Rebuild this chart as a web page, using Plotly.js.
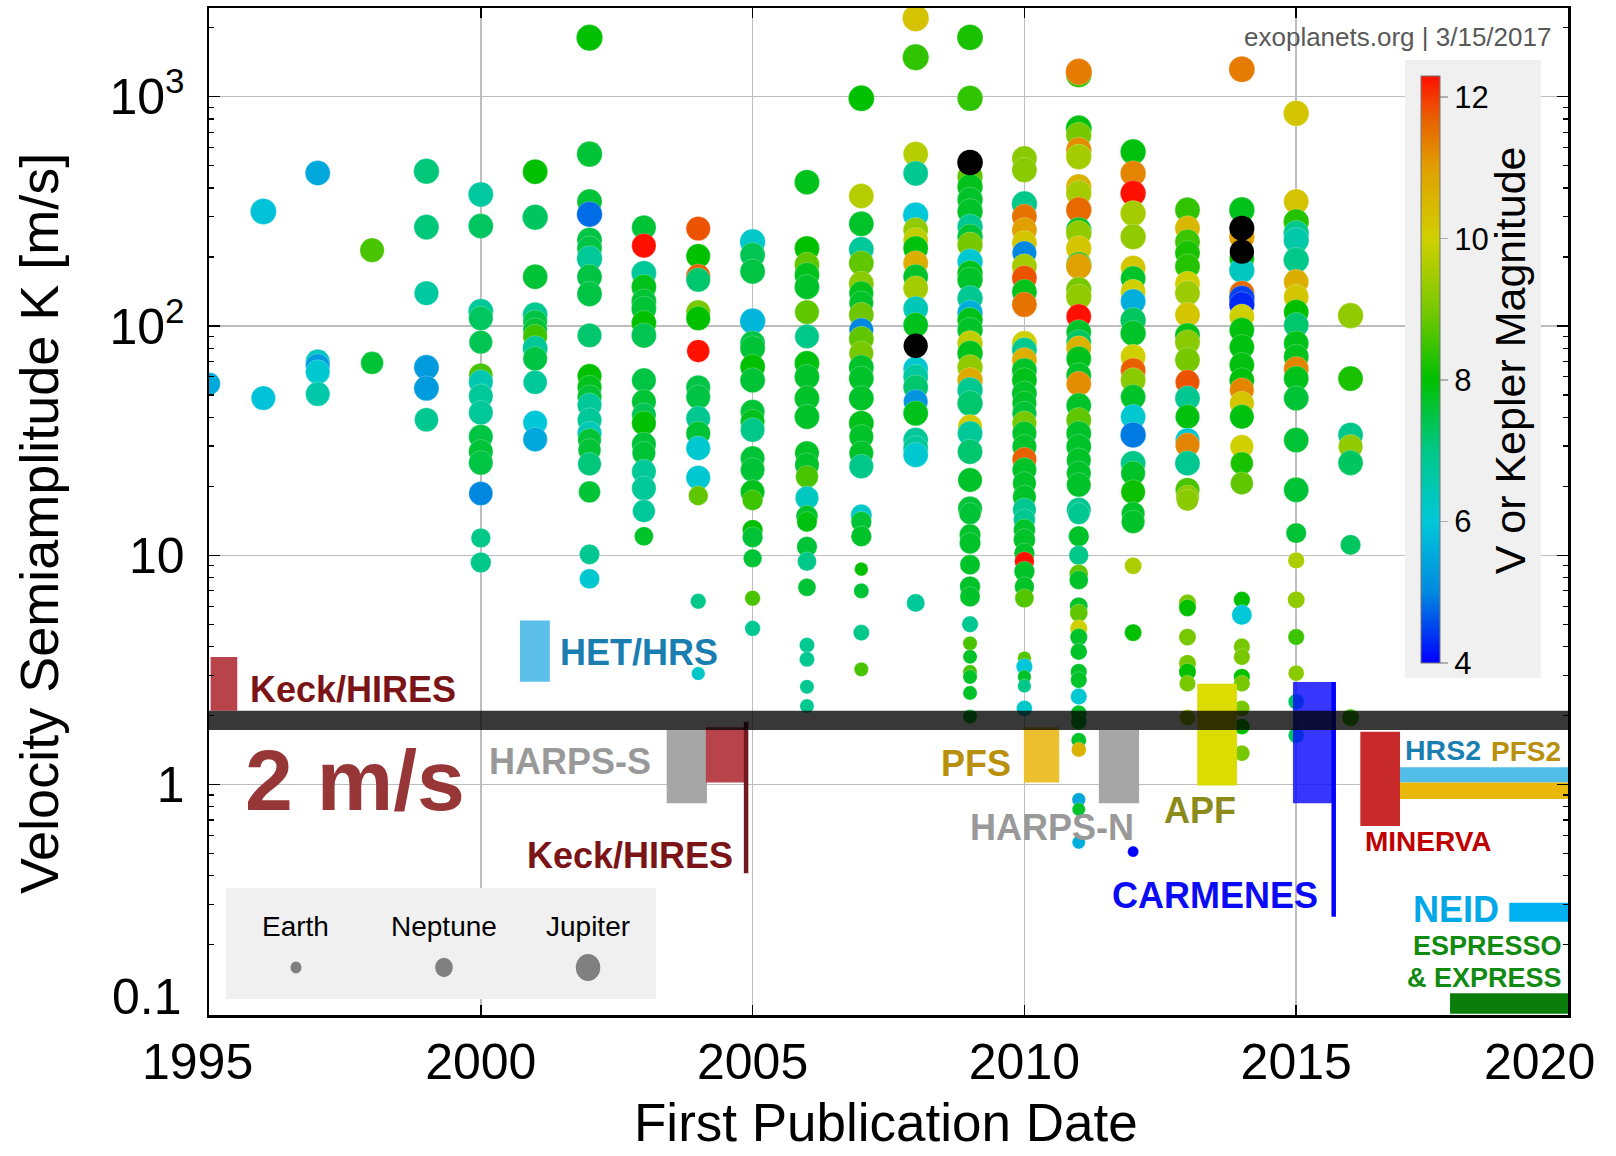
<!DOCTYPE html>
<html>
<head>
<meta charset="utf-8">
<script src="https://cdn.plot.ly/plotly-3.0.1.min.js"></script>
<style>
  html, body { margin: 0; padding: 0; background: #fff; }
  #chart { width: 1616px; height: 1156px; }
</style>
</head>
<body>
<div id="chart"></div>
<script>
// Radial-velocity planets by year of first publication.
// Each row: [K semiamplitude (m/s), host V or Kepler magnitude (null = unknown), planet mass (Earth masses)]
const p1995 = [[56, 5.5, 150]];
const p1996 = [[316, 5.9, 600], [48.5, 5.9, 300]];
const p1997 = [[465, 5.5, 400], [70, 6.3, 300], [67, 5.3, 300], [63, 6.1, 300], [50.5, 6.6, 300]];
const p1998 = [[214, 8.6, 300], [69, 7.6, 150]];
const p1999 = [[473, 7.1, 500], [270, 7.1, 400], [139, 6.7, 300], [66, 5.3, 400], [53.5, 5.3, 400], [39, 6.9, 250]];
const p2000 = [[375, 6.7, 400], [273, 7.3, 400], [116, 6.8, 400], [108, 7.3, 300], [85, 7.4, 200], [61, 8.6, 250],
  [57, 6.5, 300], [49.5, 6.8, 300], [41.9, 6.8, 300], [32.9, 7.5, 300], [28.3, 7.6, 300], [25.3, 7.5, 300],
  [18.6, 5.0, 250], [11.9, 7.0, 40], [9.3, 7.0, 60]];
const p2001 = [[471, 8.0, 400], [298, 7.3, 500], [164, 7.6, 400], [112, 6.9, 400], [104, 7.5, 300], [96, 7.6, 300],
  [90, 8.5, 300], [80, 6.8, 400], [72, 7.5, 300], [56.8, 6.8, 250], [37.9, 6.0, 300], [32, 5.5, 300]];
const p2002 = [[1808, 8.0, 700], [562, 7.6, 500], [349, 7.6, 400], [307, 4.8, 500], [237, 7.5, 400], [218, 7.5, 400],
  [197, 6.8, 500], [164, 7.5, 400], [138, 7.5, 400], [91, 7.2, 300], [60.5, 8.0, 300], [54, 7.8, 300], [49, 7.6, 300],
  [45.2, 6.8, 300], [38.9, 6.8, 300], [34, 6.4, 300], [31.8, 7.6, 200], [28.8, 7.6, 150], [25, 7.1, 200],
  [18.9, 7.6, 100], [10.1, 6.9, 50], [7.9, 6.1, 50]];
const p2003 = [[269, 7.6, 300], [224, 12.3, 300], [170, 6.8, 400], [148, 7.8, 400], [128, 7.6, 400], [119, 7.6, 400],
  [103, 8.0, 400], [91, 7.4, 400], [58, 7.5, 300], [46.8, 7.6, 300], [40.9, 7.4, 300], [37.7, 8.0, 300],
  [30.5, 7.6, 300], [27.9, 7.6, 200], [23.2, 6.8, 300], [19.6, 6.8, 300], [15.6, 6.8, 150], [12.1, 7.7, 30]];
const p2004 = [[266, 11.8, 300], [202, 8.0, 300], [165, 11.7, 300], [159, 7.2, 300], [115, 9.0, 300], [108, 8.0, 300],
  [77.8, 12.3, 150], [54, 7.5, 300], [49, 7.5, 300], [39.6, 6.9, 300], [34, 7.6, 300], [29.3, 6.1, 300],
  [21.8, 6.1, 300], [18.2, 8.8, 40], [6.3, 7.0, 7], [3.05, 6.2, 3]];
const p2005 = [[233, 6.2, 500], [204, 7.4, 400], [173, 7.5, 400], [105, 5.7, 500], [84, 7.5, 400], [80, 7.6, 400],
  [66.4, 8.0, 400], [58, 7.6, 400], [42.3, 7.6, 300], [38.3, 7.8, 300], [35.2, 7.0, 300], [26.5, 7.6, 300],
  [23.6, 7.6, 300], [18.9, 7.8, 300], [17.4, 8.5, 60], [12.9, 8.0, 60], [12, 7.6, 60], [9.7, 7.6, 25],
  [6.5, 8.6, 7], [4.8, 6.9, 7]];
const p2006 = [[424, 7.8, 400], [218, 8.0, 400], [185, 8.8, 400], [167, 7.8, 400], [148, 7.7, 400], [115, 8.8, 300],
  [90, 7.0, 300], [68.7, 7.9, 400], [60, 7.7, 400], [48.4, 7.7, 400], [40.2, 7.7, 400], [27.9, 7.7, 300],
  [24.8, 7.7, 300], [22, 8.6, 150], [17.8, 6.3, 200], [14.8, 7.7, 100], [14, 7.9, 55], [10.9, 7.6, 55],
  [9.4, 7.0, 30], [7.25, 7.6, 20], [4.06, 6.9, 6], [3.52, 6.9, 6], [2.67, 6.9, 4], [2.2, 6.9, 4]];
const p2007 = [[984, 8.0, 600], [369, 9.7, 400], [279, 7.7, 400], [216, 6.8, 400], [188, 8.8, 400], [153, 9.2, 400],
  [139, 7.8, 300], [126, 7.7, 300], [112, 8.9, 400], [96, 5.0, 300], [88, 8.8, 400], [76, 9.0, 300], [66, 7.7, 400],
  [59, 7.7, 400], [48.4, 7.7, 400], [37.7, 7.8, 400], [32.9, 7.7, 300], [27.9, 7.7, 300], [24.4, 7.0, 300],
  [15, 6.2, 80], [14, 7.6, 60], [12.1, 7.7, 60], [8.7, 8.0, 3], [7, 7.6, 6], [4.6, 7.0, 9], [3.18, 8.6, 4]];
const p2008 = [[2200, 10.3, 800], [1486, 8.4, 700], [562, 9.7, 400], [463, 6.9, 400], [305, 6.0, 500], [262, 9.3, 400],
  [237, 9.8, 400], [218, 7.9, 400], [188, 10.7, 400], [164, 7.7, 400], [146, 9.5, 400], [119, 6.4, 400],
  [101, 7.8, 400], [82, null, 300], [65, 6.1, 400], [60, 6.7, 400], [54, 7.2, 400], [46.8, 5.2, 300],
  [41.6, 7.8, 400], [31.8, 6.8, 400], [29.3, 6.8, 400], [27.4, 6.1, 400], [6.2, 6.8, 22]];
const p2009 = [[1815, 8.2, 600], [984, 8.4, 500], [517, null, 500], [448, 8.8, 500], [405, 7.8, 500], [355, 7.7, 500],
  [316, 7.7, 500], [271, 6.9, 500], [245, 7.6, 500], [226, 9.0, 500], [191, 6.1, 500], [170, 7.8, 500],
  [159, 7.7, 500], [132, 6.9, 500], [114, 5.6, 500], [106, 7.8, 500], [96, 7.7, 500], [84, 9.8, 500],
  [76, 7.8, 500], [66, 9.3, 500], [58, 10.8, 500], [52.6, 6.9, 500], [46, 7.2, 500], [36.4, 10.1, 300],
  [34, 6.8, 400], [28.3, 7.2, 400], [21.3, 7.7, 300], [16, 7.6, 300], [15.2, 7.6, 100], [12.3, 7.7, 80],
  [11.3, 7.7, 80], [9.1, 7.7, 50], [7.3, 7.7, 60], [6.6, 7.7, 50], [5, 6.9, 10], [4.13, 8.6, 4], [3.61, 7.7, 4],
  [3.1, 8.6, 4], [2.95, 7.7, 4], [2.51, 7.7, 4], [1.98, 7.7, 4]];
const p2010 = [[538, 9.2, 400], [479, 9.2, 400], [341, 7.0, 500], [300, 11.5, 400], [262, 11.0, 400], [230, 10.2, 400],
  [208, 5.0, 300], [182, 9.5, 400], [162, 11.8, 400], [141, 7.8, 400], [124, 11.5, 400], [84, 10.0, 400],
  [78.5, 6.9, 400], [71, 10.7, 400], [64, 7.7, 400], [58, 7.8, 400], [50.8, 7.7, 400], [46, 7.7, 300],
  [41.6, 7.6, 300], [37.7, 9.0, 300], [34, 7.7, 300], [29.8, 7.7, 300], [26.2, 11.7, 300], [23.6, 7.7, 300],
  [20.6, 7.7, 200], [18, 7.7, 200], [15.8, 6.9, 200], [14.3, 6.9, 100], [12.9, 7.7, 100], [11.7, 7.7, 100],
  [10.2, 7.7, 60], [9.4, 12.3, 40], [8.5, 7.7, 60], [7.3, 7.7, 40], [6.5, 8.7, 30], [3.56, 8.7, 3],
  [3.27, 6.0, 10], [2.95, 7.7, 3], [2.69, 7.0, 3], [2.15, 6.2, 8]];
const p2011 = [[1250, 8.5, 600], [1285, 11.4, 700], [728, 7.9, 600], [681, 9.0, 500], [586, 11.2, 500], [547, 9.5, 500],
  [405, 10.6, 500], [379, 9.5, 500], [321, 11.6, 500], [262, 7.8, 500], [254, 9.3, 500], [218, 10.2, 500],
  [185, 7.8, 500], [182, 11.0, 500], [144, 9.0, 500], [134, 9.3, 500], [110, 12.4, 400], [94, 7.7, 400],
  [85, 7.3, 400], [80, 10.6, 400], [72, 7.8, 400], [61, 7.7, 400], [56, 11.2, 400], [45, 7.7, 400],
  [38.9, 8.8, 400], [34, 7.7, 400], [29.8, 7.7, 400], [26, 7.7, 300], [22.8, 7.7, 300], [20.3, 7.7, 300],
  [15.8, 6.9, 300], [15.2, 6.9, 100], [12.1, 7.7, 60], [10, 7.0, 40], [8.3, 8.8, 30], [7.8, 7.7, 30],
  [6, 7.7, 20], [5.6, 8.8, 20], [4.8, 10.0, 15], [4.4, 7.7, 15], [3.8, 7.7, 12], [3.1, 7.7, 10], [2.86, 7.7, 10],
  [2.42, 6.1, 10], [2.05, 7.7, 8], [1.88, 7.7, 8], [1.56, 7.7, 6], [1.42, 10.6, 5], [0.86, 5.5, 3],
  [0.78, 7.7, 2.5], [0.56, 5.6, 2.5]];
const p2012 = [[575, 7.9, 500], [463, 11.3, 500], [379, 12.3, 500], [310, 9.5, 500], [245, 9.3, 500], [179, 10.2, 400],
  [161, 7.7, 400], [141, 10.0, 400], [128, 5.6, 400], [106, 7.3, 500], [93, 7.7, 500], [73.5, 10.0, 400],
  [64, 11.7, 400], [58, 9.2, 400], [49, 7.7, 400], [40.2, 6.1, 400], [33.5, 4.9, 500], [25.2, 7.0, 400],
  [22.8, 7.7, 300], [18.9, 8.1, 300], [15.2, 7.7, 200], [14, 7.7, 200], [9, 9.6, 14], [4.6, 8.0, 14], [0.51, 4.0, 1]];
const p2013 = [[321, 8.4, 400], [267, 10.5, 400], [233, 8.5, 400], [208, 8.2, 400], [182, 8.3, 400], [153, 10.0, 400],
  [139, 9.4, 400], [112, 10.2, 400], [91, 7.8, 400], [85, 9.2, 400], [71, 9.0, 400], [57, 11.8, 300],
  [48.4, 6.9, 400], [40.2, 7.9, 300], [31.8, 6.1, 300], [30.3, 11.3, 300], [25.2, 6.9, 400], [19.3, 8.6, 300],
  [18, 9.2, 200], [17.4, 9.2, 100], [6.2, 9.0, 14], [5.9, 8.0, 14], [4.4, 9.0, 14], [3.38, 9.0, 14],
  [3.1, 8.0, 14], [2.76, 9.0, 10], [1.96, 9.5, 8]];
const p2014 = [[1318, 11.4, 600], [321, 7.8, 500], [267, null, 400], [245, 11.0, 500], [211, null, 300], [197, 8.0, 400],
  [175, 6.3, 500], [139, 11.6, 400], [132, 4.5, 500], [124, 4.3, 500], [110, 10.0, 400], [96, 7.9, 400],
  [81, 7.9, 400], [67.6, 7.9, 400], [58, 7.9, 400], [52.6, 11.3, 300], [46, 10.2, 300], [40.2, 7.9, 300],
  [29.8, 10.0, 200], [25.2, 8.2, 150], [20.6, 8.8, 150], [6.4, 8.0, 10], [5.5, 6.0, 50], [4, 9.0, 10],
  [3.6, 9.0, 10], [2.95, 8.0, 10], [2.76, 9.0, 10], [2.15, 9.0, 8], [1.79, 8.0, 8], [1.37, 9.0, 8]];
const p2015 = [[846, 10.2, 500], [349, 10.3, 400], [285, 8.3, 500], [254, 7.0, 500], [237, 6.6, 500], [194, 7.0, 500],
  [156, 10.7, 400], [134, 10.2, 400], [115, 8.0, 400], [101, 7.2, 400], [84, 7.8, 400], [73.5, 7.8, 400],
  [65, 11.3, 400], [59, 7.8, 400], [48.4, 7.6, 400], [31.8, 7.6, 400], [19.3, 7.6, 400], [12.5, 7.6, 55],
  [9.5, 9.6, 10], [6.4, 9.3, 14], [4.4, 8.5, 10], [3.06, 9.2, 8], [2.3, 7.3, 8], [1.64, 7.3, 8]];
const p2016 = [[111, 9.3, 500], [59, 8.2, 400], [33.5, 7.0, 400], [29.8, 9.3, 300], [25.3, 7.3, 400], [11.1, 7.3, 55],
  [1.96, 8.5, 14]];

const publicationYears = [1995, 1996, 1997, 1998, 1999, 2000, 2001, 2002, 2003, 2004, 2005,
  2006, 2007, 2008, 2009, 2010, 2011, 2012, 2013, 2014, 2015, 2016];
const yearColumns = [p1995, p1996, p1997, p1998, p1999, p2000, p2001, p2002, p2003, p2004, p2005,
  p2006, p2007, p2008, p2009, p2010, p2011, p2012, p2013, p2014, p2015, p2016];

// Spectrograph precision floors: active period and reachable K range
const instName = ['Keck/HIRES', 'HET/HRS', 'HARPS-S', 'Keck/HIRES', 'PFS', 'HARPS-N', 'APF', 'CARMENES',
  'MINERVA', 'HRS2', 'PFS2', 'NEID', 'ESPRESSO & EXPRESS'];
const instFrom = [1995.03, 2000.72, 2003.42, 2004.14, 2009.99, 2011.37, 2013.18, 2014.94, 2016.18, 2016.91, 2016.91, 2018.92, 2017.83];
const instTo = [1995.52, 2001.27, 2004.16, 2004.88, 2010.64, 2012.11, 2013.91, 2015.66, 2016.91, 2020, 2020, 2020, 2020];
const instKLow = [2.1, 2.81, 0.83, 1.02, 1.02, 0.83, 0.99, 0.83, 0.66, 1.02, 0.865, 0.252, 0.1];
const instKHigh = [3.6, 5.2, 1.73, 1.78, 1.78, 1.73, 2.75, 2.8, 1.70, 1.19, 1.02, 0.305, 0.123];

// Upgrade markers (year, K from, K to)
const upgradeYear = [2004.88, 2015.69];
const upgradeKLow = [0.41, 0.265];
const upgradeKHigh = [1.88, 2.8];

// 2 m/s reference band
const bandKLow = 1.73;
const bandKHigh = 2.10;

// Size key
const keyNames = ['Earth', 'Neptune', 'Jupiter'];
const keyMass = [1, 17.1, 317.8];

const xTickYears = [2000, 2005, 2010, 2015];
const xTickText = ['2000', '2005', '2010', '2015'];
const xEdgeYears = ['1995', '2020'];
const yTickVals = [1, 10, 100, 1000];
const yTickText = ['1', '10', '10<sup>2</sup>', '10<sup>3</sup>'];
const magTicks = [4, 6, 8, 10, 12];

// ---- styling ----
const FONT = 'Liberation Sans, Arial, Helvetica, sans-serif';
const instColor = ['#b8434a', '#5bbfea', '#a6a6a6', '#b8434a', '#ebbf2e', '#a6a6a6', '#dcdc00',
  'rgba(10,10,255,0.82)', '#c8292b', '#52bde8', '#e9b80b', '#00b0f0', '#0b7d0b'];
const upgradeColor = ['#701a1f', '#0000ff'];
const MAG_MIN = 4, MAG_MAX = 12.3;
const magStops = [[4, '#0000ff'], [5, '#0088e0'], [6, '#00c8d8'], [7, '#00c888'], [8, '#00c000'],
  [9, '#78c800'], [10, '#d0d000'], [11, '#e0a000'], [11.7, '#e86000'], [12.3, '#ff1000']];
const colorscale = magStops.map(([m, c]) => [(m - MAG_MIN) / (MAG_MAX - MAG_MIN), c]);

function markerDiameter(massEarth) {
  const d = 11 + 13.5 * Math.log10(massEarth) / Math.log10(317.8);
  return Math.max(9, Math.min(26.5, d));
}

// ---- flatten the columns ----
const px = [], pk = [], pm = [], ps = [];
const bx = [], bk = [], bs = [];
yearColumns.forEach((col, i) => {
  const yr = publicationYears[i];
  col.forEach(([k, mag, mass]) => {
    if (mag === null) { bx.push(yr); bk.push(k); bs.push(markerDiameter(mass)); }
    else { px.push(yr); pk.push(k); pm.push(mag); ps.push(markerDiameter(mass)); }
  });
});

const traces = [];
traces.push({
  type: 'scatter', mode: 'markers', x: px, y: pk, hoverinfo: 'skip', showlegend: false,
  marker: {
    size: ps, color: pm, colorscale: colorscale, cmin: MAG_MIN, cmax: MAG_MAX, opacity: 1,
    line: {width: 0.7, color: 'rgba(255,255,255,0.35)'}, showscale: true,
    colorbar: {
      x: 0.8918, xanchor: 'left', xpad: 0, ypad: 0, y: 0.641, yanchor: 'middle',
      len: 587, lenmode: 'pixels', thickness: 19, thicknessmode: 'pixels',
      outlinewidth: 1, outlinecolor: '#777', bgcolor: 'rgba(0,0,0,0)', borderwidth: 0,
      tickmode: 'array', tickvals: magTicks, ticktext: magTicks.map(String),
      ticks: 'outside', ticklen: 8, tickcolor: '#b0b0b0', tickwidth: 1.5,
      tickfont: {family: FONT, size: 31, color: '#000'}
    }
  }
});
traces.push({
  type: 'scatter', mode: 'markers', x: bx, y: bk, hoverinfo: 'skip', showlegend: false,
  marker: {size: bs, color: '#000000', opacity: 1, line: {width: 0}}
});

instName.forEach((name, i) => {
  traces.push({
    type: 'scatter', mode: 'lines', hoverinfo: 'skip', showlegend: false,
    x: [instFrom[i], instTo[i], instTo[i], instFrom[i], instFrom[i]],
    y: [instKLow[i], instKLow[i], instKHigh[i], instKHigh[i], instKLow[i]],
    fill: 'toself', fillcolor: instColor[i], line: {width: 0}
  });
});
upgradeYear.forEach((yr, i) => {
  traces.push({
    type: 'scatter', mode: 'lines', hoverinfo: 'skip', showlegend: false,
    x: [yr, yr], y: [upgradeKLow[i], upgradeKHigh[i]],
    line: {color: upgradeColor[i], width: 4.5}
  });
});
traces.push({
  type: 'scatter', mode: 'lines', hoverinfo: 'skip', showlegend: false,
  x: [1995, 2020, 2020, 1995, 1995], y: [bandKLow, bandKLow, bandKHigh, bandKHigh, bandKLow],
  fill: 'toself', fillcolor: 'rgba(0,0,0,0.78)', line: {width: 0}
});

// ---- text ----
function tag(text, year, k, anchor, color, size) {
  return {
    xref: 'x', yref: 'y', x: year, y: Math.log10(k), text: '<b>' + text + '</b>', showarrow: false,
    xanchor: anchor, yanchor: 'middle', font: {family: FONT, size: size, color: color}
  };
}
function paperText(text, x, y, anchor, size, color, angle, vAnchor) {
  return {
    xref: 'paper', yref: 'paper', x: x, y: y, xanchor: anchor, yanchor: vAnchor || 'middle', showarrow: false,
    text: text, textangle: angle || 0, font: {family: FONT, size: size, color: color}
  };
}
const annotations = [
  tag('Keck/HIRES', 1995.71, 2.59, 'left', '#7b1416', 36),
  tag('2 m/s', 1995.62, 1.05, 'left', '#973636', 86),
  tag('HET/HRS', 2001.42, 3.78, 'left', '#1a7fb0', 36),
  tag('HARPS-S', 2001.64, 1.256, 'center', '#999999', 36),
  tag('Keck/HIRES', 2004.67, 0.493, 'right', '#7b1416', 36),
  tag('PFS', 2009.79, 1.24, 'right', '#b8900c', 36),
  tag('HARPS-N', 2010.51, 0.647, 'center', '#999999', 36),
  tag('APF', 2013.23, 0.767, 'center', '#8b8b1c', 36),
  tag('CARMENES', 2013.51, 0.327, 'center', '#0a0af5', 36),
  tag('MINERVA', 2016.23, 0.562, 'left', '#c00000', 28),
  tag('HRS2', 2016.97, 1.41, 'left', '#1a7fb0', 28.5),
  tag('PFS2', 2019.90, 1.40, 'right', '#b8900c', 28),
  tag('NEID', 2018.77, 0.286, 'right', '#00a8e8', 36),
  tag('ESPRESSO', 2019.93, 0.198, 'right', '#108a10', 27),
  tag('&amp; EXPRESS', 2019.93, 0.143, 'right', '#108a10', 27),
  // axis labels at the plot corners, kept inside the page
  paperText('0.1', -0.0187, 0.0179, 'right', 50, '#000'),
  paperText(xEdgeYears[0], -0.0088, -0.0462, 'center', 50, '#000'),
  paperText(xEdgeYears[1], 0.9787, -0.0462, 'center', 50, '#000'),
  // axis titles
  paperText('First Publication Date', 0.4985, -0.1385, 'center', 53, '#000', 0, 'bottom'),
  paperText('Velocity Semiamplitude K [m/s]', -0.1251, 0.4886, 'center', 54, '#000', -90),
  paperText('exoplanets.org | 3/15/2017', 0.989, 0.971, 'right', 26, '#595959'),
  paperText('V or Kepler Magnitude', 0.958, 0.650, 'center', 43, '#000', -90)
];
const keyX = [0.0640, 0.1729, 0.2789];
keyNames.forEach((n, i) => annotations.push(paperText(n, keyX[i], 0.0874, 'center', 28, '#000')));

// ---- boxes and size key ----
const shapes = [
  {type: 'rect', xref: 'paper', yref: 'paper', x0: 0.880, x1: 0.980, y0: 0.3347, y1: 0.9484,
    fillcolor: '#f0f0f0', line: {width: 0}, layer: 'above'},
  {type: 'rect', xref: 'paper', yref: 'paper', x0: 0.0125, x1: 0.3289, y0: 0.0159, y1: 0.1261,
    fillcolor: '#f0f0f0', line: {width: 0}, layer: 'above'}
];
keyMass.forEach((m, i) => {
  const r = markerDiameter(m) / 2;
  shapes.push({
    type: 'circle', xref: 'paper', yref: 'paper', xsizemode: 'pixel', ysizemode: 'pixel',
    xanchor: keyX[i], yanchor: 0.0472, x0: -r, x1: r, y0: -r * 1.1, y1: r * 1.1,
    fillcolor: '#808080', line: {width: 0}, layer: 'above'
  });
});

// minor tick positions for the log axis
const minorVals = [];
for (let e = -1; e <= 3; e++) for (let m = 2; m <= 9; m++) minorVals.push(m * Math.pow(10, e));

const layout = {
  width: 1616, height: 1156,
  margin: {l: 209, r: 48, t: 8, b: 141},
  paper_bgcolor: '#ffffff', plot_bgcolor: '#ffffff',
  font: {family: FONT, color: '#000'},
  showlegend: false,
  xaxis: {
    range: [1995, 2020], tickmode: 'array', tickvals: xTickYears, ticktext: xTickText,
    showgrid: true, gridcolor: '#bdbdbd', gridwidth: 1.5, zeroline: false,
    ticks: 'inside', ticklen: 10, tickwidth: 1.5, tickcolor: '#000', mirror: 'allticks',
    showline: true, linecolor: '#000', linewidth: 2.5,
    tickfont: {family: FONT, size: 50, color: '#000'}, ticklabelstandoff: 1
  },
  yaxis: {
    type: 'log', range: [-1.005, 3.387], tickmode: 'array', tickvals: yTickVals, ticktext: yTickText,
    showgrid: true, gridcolor: '#bdbdbd', gridwidth: 1.5, zeroline: false,
    ticks: 'inside', ticklen: 11, tickwidth: 1.5, tickcolor: '#000', mirror: 'allticks',
    showline: true, linecolor: '#000', linewidth: 2.5,
    minor: {tickmode: 'array', tickvals: minorVals, ticks: 'inside', ticklen: 5, tickwidth: 1.2, tickcolor: '#000', showgrid: false},
    tickfont: {family: FONT, size: 50, color: '#000'}, ticklabelstandoff: 12
  },
  shapes: shapes,
  annotations: annotations
};

Plotly.newPlot('chart', traces, layout, {staticPlot: true, displayModeBar: false});
</script>
</body>
</html>
